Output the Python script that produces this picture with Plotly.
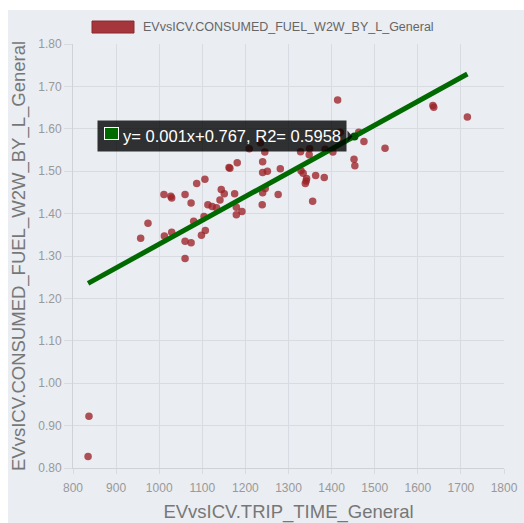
import plotly.graph_objects as go

# ---- data ----
trip_time = [835, 837, 957, 974, 1012, 1029, 1011, 1027, 1029, 1060, 1074, 1087, 1106, 1113,
             1123, 1133, 1141, 1144, 1151, 1175, 1179, 1192, 1179, 1080, 1104, 1107, 1098, 1060,
             1074, 1060, 1162, 1164, 1181, 1209, 1235, 1245, 1240, 1240, 1251, 1281, 1246, 1240,
             1276, 1239, 1328, 1349, 1348, 1385, 1403, 1420, 1463, 1475, 1524, 1452, 1454, 1329,
             1334, 1342, 1341, 1339, 1363, 1383, 1356, 1414, 1635, 1637, 1715]
consumed_fuel = [0.827, 0.922, 1.342, 1.377, 1.347, 1.356, 1.445, 1.441, 1.437, 1.445, 1.425,
                 1.471, 1.481, 1.421, 1.417, 1.414, 1.432, 1.457, 1.447, 1.447, 1.415, 1.405,
                 1.397, 1.382, 1.393, 1.360, 1.349, 1.335, 1.331, 1.294, 1.509, 1.507, 1.520,
                 1.553, 1.567, 1.545, 1.522, 1.497, 1.500, 1.506, 1.459, 1.449, 1.445, 1.421,
                 1.546, 1.553, 1.539, 1.552, 1.545, 1.592, 1.592, 1.570, 1.554, 1.528, 1.513,
                 1.501, 1.495, 1.483, 1.477, 1.471, 1.490, 1.485, 1.429, 1.668, 1.655, 1.651,
                 1.628]
SLOPE = 0.000561
INTERCEPT = 0.767
HOVER_X = 1453
series_name = "EVvsICV.CONSUMED_FUEL_W2W_BY_L_General"
fit_label = "y= 0.001x+0.767, R2= 0.5958"
x_title = "EVvsICV.TRIP_TIME_General"
y_title = "EVvsICV.CONSUMED_FUEL_W2W_BY_L_General"
x_ticks = list(range(800, 1801, 100))
y_ticks = [0.8, 0.9, 1.0, 1.1, 1.2, 1.3, 1.4, 1.5, 1.6, 1.7, 1.8]

BG = "#eaedf2"
GRID = "#d8dbe1"
FONT = "Liberation Sans, Arial, sans-serif"

line_x = [min(trip_time), max(trip_time)]
line_y = [INTERCEPT + SLOPE * v for v in line_x]
hover_y = INTERCEPT + SLOPE * HOVER_X

fig = go.Figure()
fig.add_trace(go.Scatter(
    x=trip_time, y=consumed_fuel, mode="markers", name=series_name,
    marker=dict(size=7.5, color="rgba(155,35,40,0.78)", line=dict(width=0)),
    showlegend=False))
fig.add_trace(go.Scatter(
    x=line_x, y=line_y, mode="lines", name=fit_label,
    line=dict(color="rgb(0,105,0)", width=5), showlegend=False))
fig.add_trace(go.Scatter(
    x=[HOVER_X], y=[hover_y], mode="markers", showlegend=False,
    marker=dict(size=8, color="rgb(0,85,0)")))

axis_common = dict(showgrid=True, gridcolor=GRID, gridwidth=1, zeroline=False,
                   showline=True, linecolor="#cfd2d8", linewidth=1, mirror=False,
                   ticks="outside", tickcolor=GRID, automargin=False,
                   tickfont=dict(size=12, color="#999999", family=FONT))

fig.update_xaxes(range=[800, 1800], tickvals=x_ticks, ticklen=5, ticklabelstandoff=4,
                 title=dict(text=x_title, font=dict(size=18.5, color="#777777", family=FONT), standoff=10),
                 **axis_common)
fig.update_yaxes(range=[0.8, 1.8], tickvals=y_ticks, tickformat=".2f", ticklen=8,
                 title=dict(text=y_title, font=dict(size=18.5, color="#777777", family=FONT), standoff=8),
                 **axis_common)

# legend drawn as box + label (Chart.js style)
fig.add_shape(type="rect", xref="paper", yref="paper", x0=0.0441, x1=0.1415, y0=1.0259, y1=1.0542,
              fillcolor="rgb(165,55,60)", line=dict(color="rgb(140,40,45)", width=1))
fig.add_annotation(xref="paper", yref="paper", x=0.158, y=1.040, xanchor="left", yanchor="middle",
                   text=series_name, showarrow=False,
                   font=dict(size=12.5, color="#666666", family=FONT))

# tooltip
fig.add_annotation(x=HOVER_X, y=hover_y, xanchor="right", yanchor="middle", xshift=-7,
                   text=fit_label, showarrow=False, align="right", width=238, height=20,
                   bgcolor="rgba(0,0,0,0.8)", borderpad=5,
                   font=dict(size=16.5, color="white", family=FONT))
fig.add_annotation(x=HOVER_X, y=hover_y, xanchor="center", yanchor="middle",
                   xshift=-243, yshift=3, text="", showarrow=False, width=13, height=11,
                   bgcolor="rgb(0,105,0)", bordercolor="white", borderwidth=1, borderpad=0)
fig.add_shape(type="path", xref="x", yref="y", xsizemode="pixel", ysizemode="pixel",
              xanchor=HOVER_X, yanchor=hover_y,
              path="M -7,6 L -2,0 L -7,-6 Z", fillcolor="rgba(0,0,0,0.8)", line=dict(width=0))

fig.update_layout(
    width=516, height=513,
    margin=dict(l=65, r=20, t=34, b=55),
    paper_bgcolor=BG, plot_bgcolor=BG,
    font=dict(family=FONT),
    showlegend=False,
)

fig.write_html("out.html", post_script=(
    "document.body.style.margin='0';document.body.style.overflow='hidden';"
    "var d=document.getElementById('{plot_id}');d.style.marginTop='10px';d.style.marginLeft='8px';"))
